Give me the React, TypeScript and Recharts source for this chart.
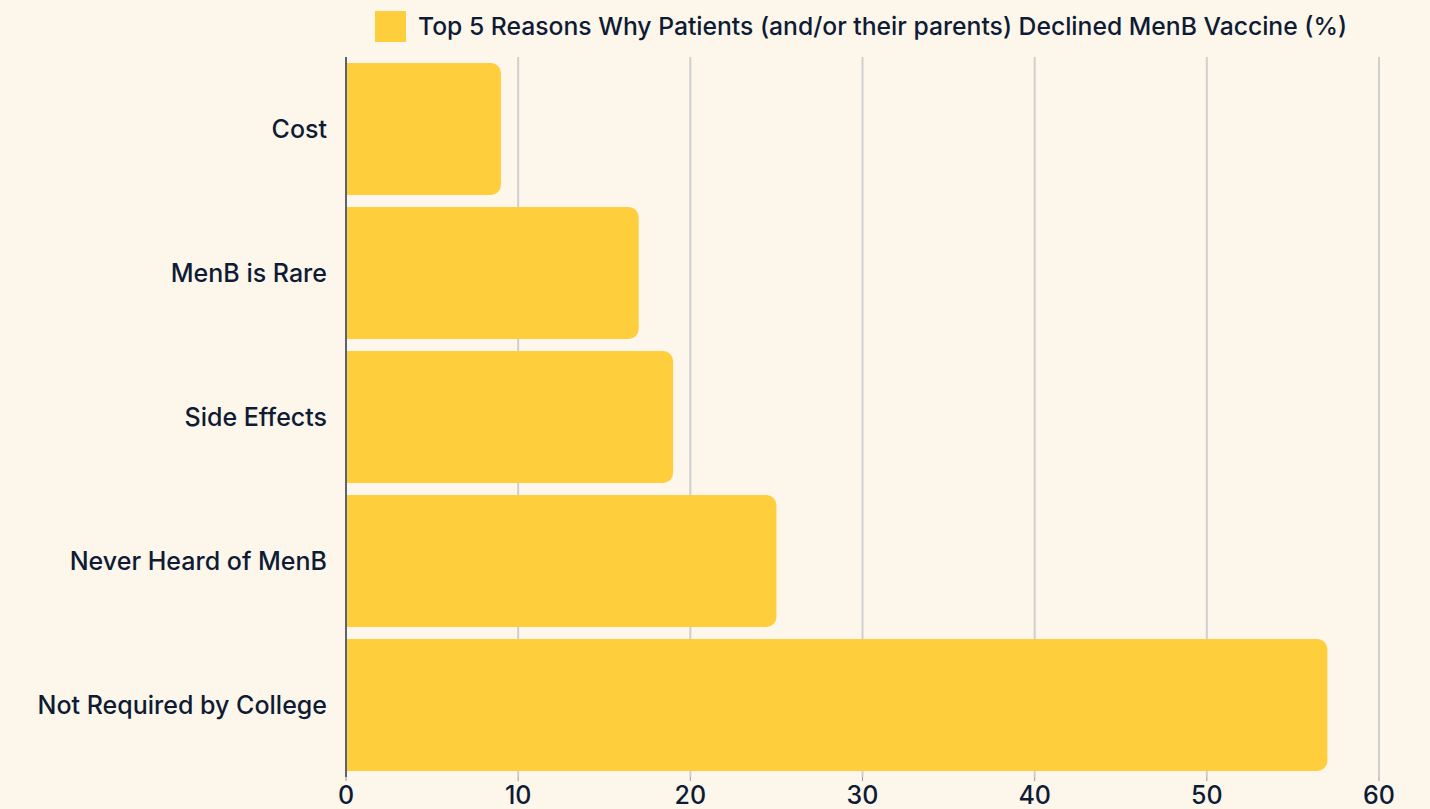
import { Bar, BarChart, CartesianGrid, Legend, XAxis, YAxis } from "recharts";

const reasons = [
  "Cost",
  "MenB is Rare",
  "Side Effects",
  "Never Heard of MenB",
  "Not Required by College",
];
const percents = [9, 17, 19, 25, 57];
const xTicks = [0, 10, 20, 30, 40, 50, 60];
const seriesName = "Top 5 Reasons Why Patients (and/or their parents) Declined MenB Vaccine (%)";

const data = reasons.map((reason, i) => ({ reason, value: percents[i] }));

const ink = "#0e1b35";
const gold = "#ffce3c";

const LegendBox = () => (
  <div style={{ display: "flex", alignItems: "center", height: 44 }}>
    <span style={{ width: 31, height: 31, background: gold, display: "inline-block", marginRight: 12 }} />
    <span style={{ fontSize: 24.7, fontWeight: 500, color: ink, whiteSpace: "nowrap" }}>{seriesName}</span>
  </div>
);

const App = () => {
  return (
    <div
      style={{
        position: "fixed",
        top: 0,
        left: 0,
        width: 1430,
        height: 809,
        background: "#fdf6eb",
        fontFamily: "Inter, 'Liberation Sans', sans-serif",
      }}
    >
      <BarChart
        width={1430}
        height={809}
        data={data}
        layout="vertical"
        margin={{ top: 13, right: 51, bottom: 2, left: 0 }}
        barCategoryGap={6}
      >
        <CartesianGrid horizontal={false} stroke="#cfcfcf" strokeWidth={2} />
        <XAxis
          type="number"
          domain={[0, 60]}
          ticks={xTicks}
          axisLine={false}
          tickSize={4}
          tickMargin={5}
          tickLine={{ stroke: "#999" }}
          height={30}
          tick={{ fill: ink, fontSize: 25, fontWeight: 500 }}
        />
        <YAxis
          type="category"
          dataKey="reason"
          width={346}
          axisLine={{ stroke: "#5c6270", strokeWidth: 2 }}
          tickLine={false}
          tickMargin={13}
          tick={{ fill: ink, fontSize: 25, fontWeight: 500 }}
        />
        <Legend
          verticalAlign="top"
          content={<LegendBox />}
          wrapperStyle={{ top: 4, left: 375, width: 1050, height: 44 }}
        />
        <Bar dataKey="value" name={seriesName} fill={gold} radius={[0, 10, 10, 0]} isAnimationActive={false} />
      </BarChart>
    </div>
  );
};

export default App;
